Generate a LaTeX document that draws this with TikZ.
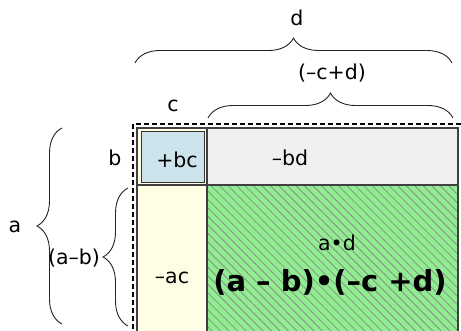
\documentclass[tikz,border=0pt]{standalone}
\usepackage{fontspec}
\setmainfont{DejaVu Sans}
\usetikzlibrary{positioning,decorations.pathreplacing,patterns.meta}

\definecolor{cellcream}{RGB}{255,253,228}
\definecolor{cellblue}{RGB}{204,227,236}
\definecolor{cellgray}{RGB}{240,240,240}
\definecolor{cellgreen}{RGB}{144,238,144}

\begin{document}
\begin{tikzpicture}[x=1pt, y=-1pt,
    lbl/.style={font=\fontsize{20.5}{23}\selectfont, inner sep=1pt},
    bigterm/.style={font=\fontsize{29}{32}\selectfont\bfseries, inner sep=1pt},
    curly/.style={decorate, decoration={brace, amplitude=25pt}, line width=0.9pt, black!85}]
    \useasboundingbox (0,0) rectangle (461,331);

    % Cells of the product a*d
    \fill[cellcream] (137,128) rectangle (207,340);
    \fill[cellgray] (207,128) rectangle (458,185);
    \fill[cellgreen] (207,185) rectangle (458,340);
    \fill[pattern={Lines[angle=-45, distance=6pt, line width=0.8pt]}, pattern color=gray!90]
        (207,185) rectangle (458,340);

    % Cell borders
    \draw[black!75, line width=1.2pt] (137,128) rectangle (458,340);
    \draw[black!75, line width=1.2pt] (207,128) -- (207,340);
    \draw[black!75, line width=1.2pt] (137,185) -- (458,185);

    % Small square b*c
    \draw[black!80, fill=cellblue, line width=1pt] (141,132) rectangle (204,183);

    % Dotted outline
    \draw[line width=2.5pt, dash pattern=on 5pt off 3pt] (133,345) -- (133,124) -- (470,124);

    % Brace end points
    \coordinate (dL) at (135,63);
    \coordinate (dR) at (452,63);
    \coordinate (cdL) at (208,118);
    \coordinate (cdR) at (453,118);
    \coordinate (aB) at (62,324);
    \coordinate (aT) at (62,128);
    \coordinate (abB) at (128,326);
    \coordinate (abT) at (128,188);

    % Braces
    \draw[curly] (dL) -- (dR);
    \draw[curly] (cdL) -- (cdR);
    \draw[curly] (aB) -- (aT);
    \draw[curly] (abB) -- (abT);

    % Labels
    \node[lbl] (dlbl) at (297,18) {d};
    \node[lbl] (cdlbl) at (332,73) {(–c+d)};
    \node[lbl] (clbl) at (173,106) {c};
    \node[lbl] (blbl) at (115,158) {b};
    \node[lbl] (albl) at (15,227) {a};
    \node[lbl] (ablbl) at (74,258) {(a–b)};

    % Terms
    \node[lbl] (bc) at (177,160) {+bc};
    \node[lbl] (bd) at (290,158) {–bd};
    \node[lbl] (ac) at (172,278) {–ac};
    \node[lbl] (ad) at (337,243) {a•d};
    \node[bigterm] (prod) at (330,282) {(a – b)•(–c +d)};
\end{tikzpicture}
\end{document}
